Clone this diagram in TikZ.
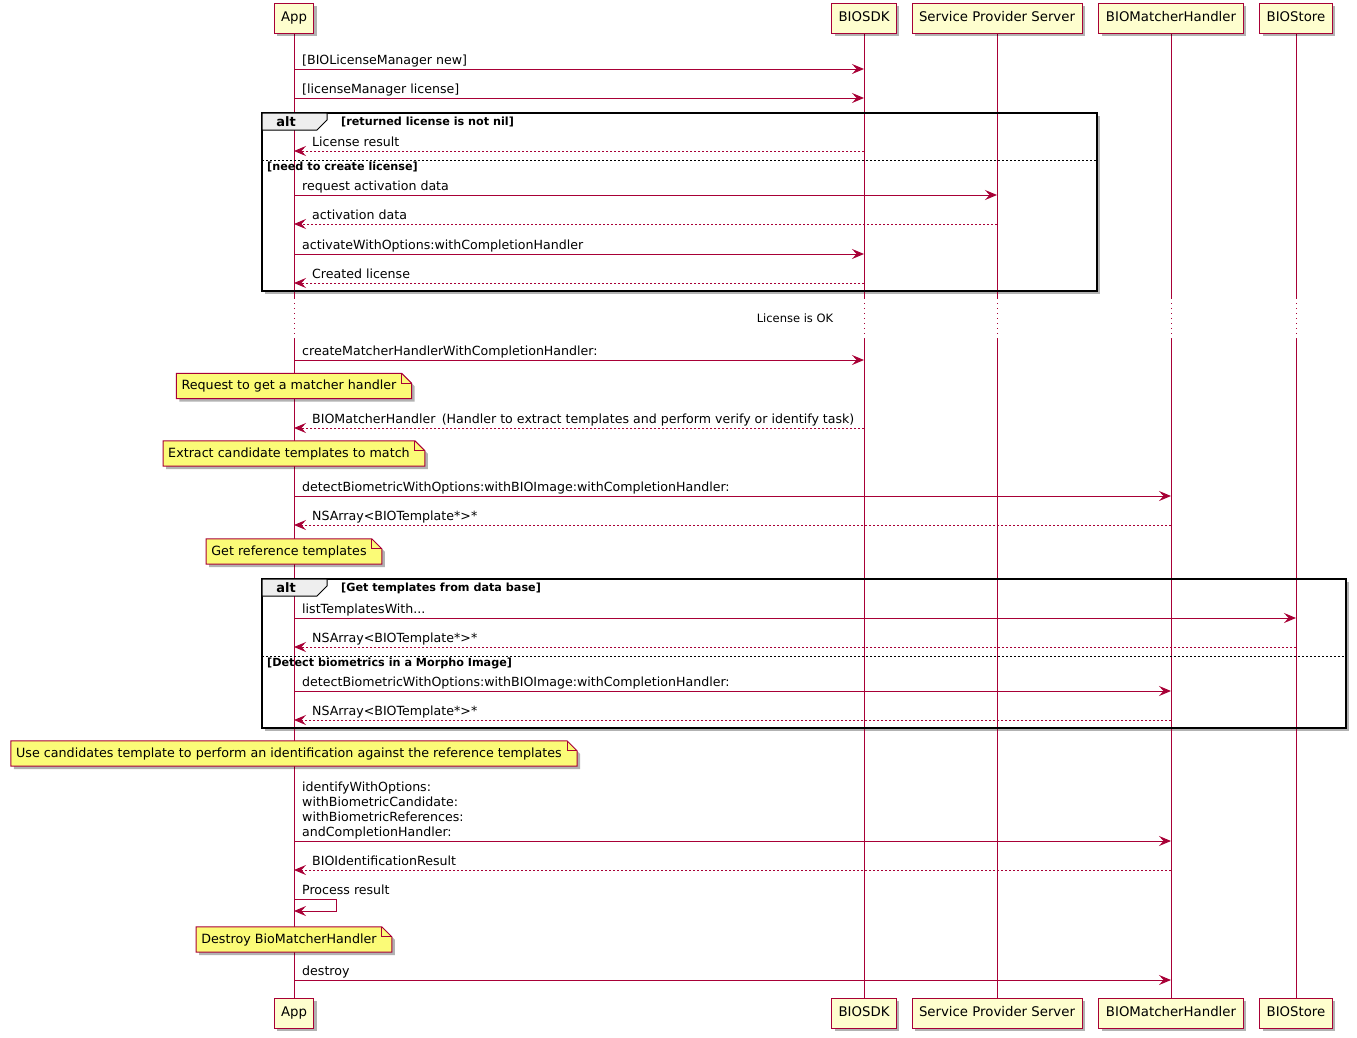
\documentclass[tikz,border=0pt]{standalone}
\usepackage{fontspec}
\setmainfont{DejaVu Sans}
\usetikzlibrary{arrows.meta,shadows}
\definecolor{puRed}{HTML}{A80036}
\definecolor{puBox}{HTML}{FEFECE}
\definecolor{puNote}{HTML}{FBFB77}
\definecolor{puHead}{HTML}{EEEEEE}
\pgfdeclarelayer{back}
\pgfsetlayers{back,main}

\tikzstyle{shade} = [drop shadow={shadow xshift=3pt,shadow yshift=-3pt,fill=black,opacity=0.3}]
\tikzstyle{actor} = [draw=puRed, fill=puBox, line width=1pt, shade, font=\fontsize{13.3}{15}\selectfont,
	text height=10pt, text depth=3pt, inner xsep=7pt, inner ysep=8.5pt]
\tikzstyle{life} = [draw=puRed, line width=1pt]
\tikzstyle{msg} = [draw=puRed, line width=1pt, -{Stealth[length=12pt,width=10pt,inset=4.5pt]}]
\tikzstyle{ret} = [msg, dash pattern=on 2pt off 2pt]
\tikzstyle{lbl} = [font=\fontsize{12.6}{15}\selectfont, anchor=base west, inner sep=0pt]
\tikzstyle{note} = [font=\fontsize{12.7}{15}\selectfont, text height=10pt, text depth=3pt, inner xsep=5pt, inner ysep=6pt]
\tikzstyle{fold} = [draw=puRed, fill=puNote, line width=1pt, shade]
\tikzstyle{frame} = [draw=black, line width=1.5pt]
\tikzstyle{head} = [draw=black, fill=puHead, line width=1pt]
\tikzstyle{guard} = [font=\fontsize{11.2}{13}\selectfont\bfseries, anchor=west, inner sep=0pt]

\begin{document}
\begin{tikzpicture}[x=1pt,y=-1pt]
\useasboundingbox (0,0) rectangle (1357,1037);

% participants, top and bottom
\foreach \p/\x/\t in {app/294/App, sdk/864/BIOSDK, sps/997/Service Provider Server,
		bmh/1171/BIOMatcherHandler, store/1296/BIOStore} {
	\node[actor] (\p T) at (\x,18) {\t};
	\node[actor] (\p B) at (\x,1013) {\t};
}

% alt frames
\coordinate (f1a) at (262,113); \coordinate (f1b) at (1097,291);
\coordinate (f2a) at (262,579); \coordinate (f2b) at (1346,728);
\begin{pgfonlayer}{back}
	\foreach \f in {f1,f2}
		\fill[white, shade] (\f a) rectangle (\f b);
	% lifelines, broken by the delay
	\foreach \p in {app,sdk,sps,bmh,store} {
		\draw[life] (\p T.south) -- (\p T |- 0,298) coordinate (\p D1);
		\draw[life, dash pattern=on 1pt off 4pt] (\p D1) -- (\p T |- 0,338) coordinate (\p D2);
		\draw[life] (\p D2) -- (\p B.north);
	}
\end{pgfonlayer}
\foreach \f in {f1,f2} {
	\draw[frame] (\f a) rectangle (\f b);
	\draw[head] (\f a) -- ++(65,0) -- ++(0,7) -- ++(-10,10) -- ++(-55,0) -- cycle;
	\node[font=\fontsize{13}{15}\selectfont\bfseries, inner sep=0pt] (\f h) at ([xshift=24pt,yshift=-9pt]\f a) {alt};
}
\node[guard] (g1) at (341,122) {[returned license is not nil]};
\node[guard] (g2) at (267,167) {[need to create license]};
\node[guard] (g3) at (341,588) {[Get templates from data base]};
\node[guard] (g4) at (267,663) {[Detect biometrics in a Morpho Image]};
\draw[black, line width=0.8pt, dash pattern=on 2pt off 2pt] (f1a |- 0,160) -- (f1b |- 0,160);
\draw[black, line width=0.8pt, dash pattern=on 2pt off 2pt] (f2a |- 0,656) -- (f2b |- 0,656);

% calls
\foreach \y/\a/\b/\t in {69/app/sdk/{[BIOLicenseManager new]},
		98/app/sdk/{[licenseManager license]},
		195/app/sps/{request activation data},
		254/app/sdk/{activateWithOptions:withCompletionHandler},
		360/app/sdk/{createMatcherHandlerWithCompletionHandler:},
		496/app/bmh/{detectBiometricWithOptions:withBIOImage:withCompletionHandler:},
		618/app/store/{listTemplatesWith...},
		691/app/bmh/{detectBiometricWithOptions:withBIOImage:withCompletionHandler:},
		980/app/bmh/{destroy}} {
	\draw[msg] (\a T |- 0,\y) coordinate (m) -- (\b T |- 0,\y);
	\node[lbl] at ([xshift=8pt,yshift=5pt]m) {\t};
}
% returns
\foreach \y/\a/\t in {151/sdk/{License result},
		224/sps/{activation data},
		283/sdk/{Created license},
		428/sdk/{BIOMatcherHandler\enspace(Handler to extract templates and perform verify or identify task)},
		525/bmh/{NSArray<BIOTemplate*>*},
		647/store/{NSArray<BIOTemplate*>*},
		720/bmh/{NSArray<BIOTemplate*>*},
		870/bmh/{BIOIdentificationResult}} {
	\draw[ret] (\a T |- 0,\y) -- (appT |- 0,\y) coordinate (r);
	\node[lbl] at ([xshift=18pt,yshift=5pt]r) {\t};
}
% identify call on four lines
\draw[msg] (appT |- 0,841) coordinate (id) -- (bmhT |- 0,841);
\node[lbl, anchor=south west, align=left] (idl) at ([xshift=8pt,yshift=2pt]id)
	{identifyWithOptions:\\withBiometricCandidate:\\withBiometricReferences:\\andCompletionHandler:};
% self call
\draw[msg] (appT |- 0,899) coordinate (s) -- ++(42,0) -- ++(0,12) -- (appT |- 0,911);
\node[lbl] (sl) at ([xshift=8pt,yshift=5pt]s) {Process result};

% delay
\node[font=\fontsize{11.5}{13}\selectfont, inner sep=0pt] (ok) at (795,318) {License is OK};

% notes over App
\foreach \n/\y/\t in {n1/386/Request to get a matcher handler,
		n2/453.5/Extract candidate templates to match,
		n3/551.5/Get reference templates,
		n4/753.5/Use candidates template to perform an identification against the reference templates,
		n5/939.5/Destroy BioMatcherHandler} {
	\node[note] (\n) at ([xshift=-5pt]appT |- 0,\y) {\t};
	\begin{pgfonlayer}{back}
		\draw[fold] (\n.south west) -- (\n.north west) -- (\n.north east)
			-- ([xshift=10pt,yshift=-10pt]\n.north east) -- ([xshift=10pt]\n.south east) -- cycle;
		\draw[puRed, line width=1pt] (\n.north east) -- ([yshift=-10pt]\n.north east)
			-- ([xshift=10pt,yshift=-10pt]\n.north east);
	\end{pgfonlayer}
}
\end{tikzpicture}
\end{document}
